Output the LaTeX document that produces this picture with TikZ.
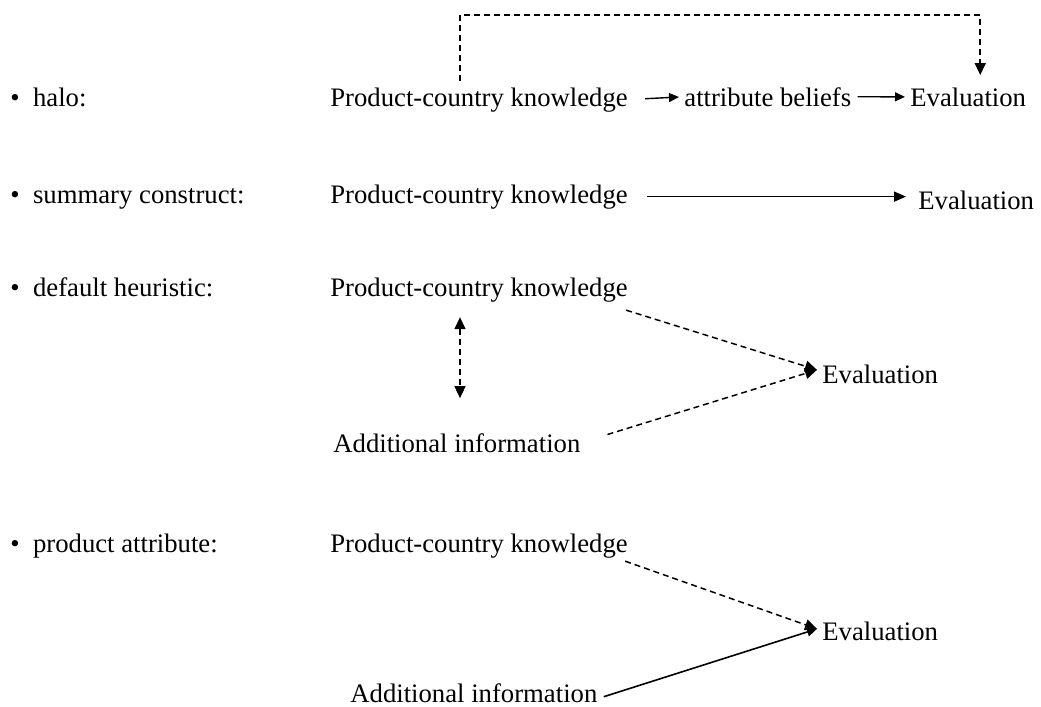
\documentclass[tikz,border=0pt]{standalone}
\usepackage{fontspec}
\setmainfont{Liberation Serif}
\usetikzlibrary{positioning,arrows.meta,calc}

\begin{document}
\begin{tikzpicture}[
  x=0.5pt, y=-0.5pt,
  font=\fontsize{13.35}{16}\selectfont,
  txt/.style={inner sep=0pt, anchor=base west},
  flow/.style={-{Triangle[length=5pt,width=4.5pt]}, draw=black, line width=0.7pt},
  longflow/.style={-{Triangle[length=6pt,width=5pt]}, draw=black, line width=0.8pt},
  dflow/.style={-{Triangle[length=6pt,width=5.5pt]}, draw=black, line width=0.75pt,
                dash pattern=on 3pt off 2pt},
  bothflow/.style={dflow, {Triangle[length=6pt,width=5.5pt]}-{Triangle[length=6pt,width=5.5pt]}}
]
\useasboundingbox (0,0) rectangle (1041,707);

% left column
\node[txt] (halo) at (10,106) {\textbullet\enspace halo:};
\node[txt] (summ) at (10,203) {\textbullet\enspace summary construct:};
\node[txt] (defh) at (10,296) {\textbullet\enspace default heuristic:};
\node[txt] (patt) at (10,552) {\textbullet\enspace product attribute:};

% halo
\node[txt] (pck1) at (330,106) {Product-country knowledge};
\node[txt] (att1) at (684,106) {attribute beliefs};
\node[txt] (ev1)  at (910,106) {Evaluation};
\draw[flow] (pck1.east) -- (att1.west) [shorten <=8.5pt, shorten >=2.5pt];
\draw[flow] (att1.east) -- (ev1.west) [shorten <=3pt, shorten >=2.5pt];
\draw[dflow] ($(pck1.north west)+(130,-6)$) -- ++(0,-66) -| ($(ev1.north)+(12,0)$) [shorten >=6pt];

% summary construct
\node[txt] (pck2) at (330,203) {Product-country knowledge};
\node[txt] (ev2)  at (918,209) {Evaluation};
\draw[longflow] ($(pck2.east)+(19,0)$) -- ($(pck2.east -| ev2.west)+(-12,0)$);

% default heuristic
\node[txt] (pck3) at (330,296) {Product-country knowledge};
\node[txt] (ai3)  at (333,452) {Additional information};
\node[txt] (ev3)  at (822,383) {Evaluation};
\draw[dflow] ($(pck3.south east)+(-2,8)$) -- ($(ev3.west)+(-5,-4)$);
\draw[dflow] (ai3.east) -- ($(ev3.west)+(-5,-4)$) [shorten <=14pt];
\draw[bothflow] ($(pck3.south west)+(130,15)$) -- ($(pck3.south west)+(130,96)$);

% product attribute
\node[txt] (pck4) at (330,552) {Product-country knowledge};
\node[txt] (ai4)  at (350,702) {Additional information};
\node[txt] (ev4)  at (822,640) {Evaluation};
\draw[dflow] ($(pck4.south east)+(-3,3)$) -- ($(ev4.west)+(-5,-2)$);
\draw[flow, line width=0.8pt] ($(ai4.east)+(6,4)$) -- ($(ev4.west)+(-5,-2)$);
\end{tikzpicture}
\end{document}
